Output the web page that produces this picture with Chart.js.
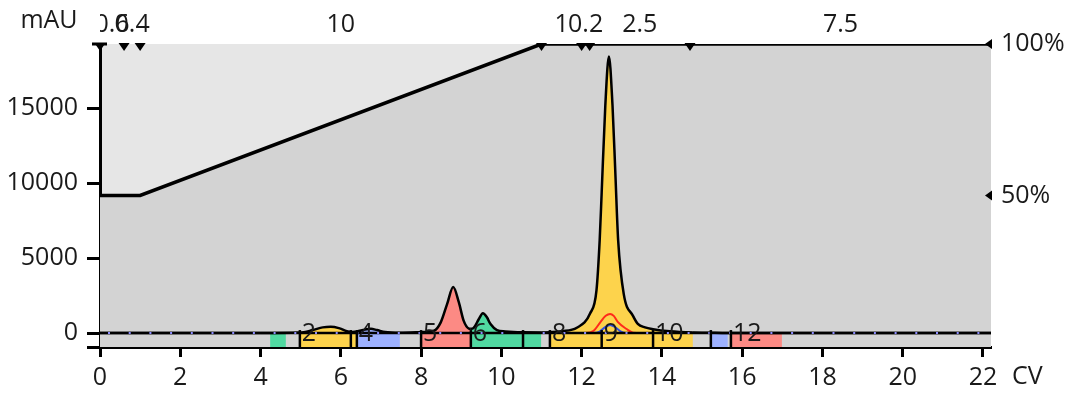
<!DOCTYPE html>
<html>
<head>
<meta charset="utf-8">
<script src="https://cdn.jsdelivr.net/npm/chart.js@4"></script>
<style>
  html, body { margin: 0; padding: 0; background: #fff; }
  canvas { display: block; }
</style>
</head>
<body>
<canvas id="chart" width="1072" height="393"></canvas>
<script>
// UV trace (CV, mAU)
const uvCV = [0, 4.0, 4.98, 5.3, 5.55, 5.75, 5.95, 6.15, 6.25, 6.27, 6.38, 6.40, 6.6, 6.75, 6.9, 7.1, 7.47, 8.0, 8.32, 8.49,
  8.65, 8.80, 8.94, 9.06, 9.19, 9.24, 9.31, 9.44, 9.54, 9.64, 9.73, 9.89, 10.1, 10.3, 10.54, 10.99, 11.21, 11.5, 11.88, 12.21,
  12.37, 12.45, 12.5, 12.59, 12.68, 12.77, 12.84, 12.91, 13.05, 13.28, 13.40, 13.58, 13.78, 14.2, 14.77, 15.5, 16.0, 22.2];
const uvMAU = [0, 0, 30, 200, 380, 420, 330, 120, 70, 70, 95, 100, 230, 280, 200, 70, 20, 60, 155, 715,
  1950, 3070, 2060, 830, 300, 280, 340, 940, 1320, 1050, 600, 200, 110, 70, 50, 40, 60, 120, 350, 1300,
  2850, 6200, 9400, 15170, 18450, 15170, 10700, 6200, 2600, 1150, 620, 380, 260, 120, 40, 10, 0, 0];

// second and third traces (red / blue)
const redCV = [0, 12.1, 12.3, 12.46, 12.6, 12.71, 12.8, 12.9, 13.12, 13.28, 13.5, 22.2];
const redMAU = [0, 0, 150, 700, 1150, 1280, 1150, 750, 270, 30, 0, 0];
const blueCV = [0, 12.3, 12.45, 12.58, 12.71, 12.84, 12.97, 13.1, 22.2];
const blueMAU = [0, 0, 100, 380, 540, 380, 120, 0, 0];

// fractions
const fracLabel = ['1', '2', '3', '4', '5', '6', '7', '8', '9', '10', '11', '12'];
const fracStart = [4.24, 4.98, 6.27, 6.40, 8.00, 9.24, 10.54, 11.21, 12.50, 13.78, 15.25, 15.72];
const fracEnd = [4.63, 6.25, 6.38, 7.47, 9.24, 10.54, 10.99, 12.50, 13.78, 14.77, 15.64, 16.99];
const fracMarks = [4.98, 6.25, 6.40, 8.00, 9.24, 10.54, 11.21, 12.50, 13.78, 15.22, 15.72];

// method segments / gradient (%B)
const segBounds = [0, 0.6, 1.0, 11.0, 12.0, 12.2, 14.7, 22.2];
const segPctB = [50, 50, 50, 100, 100, 100, 100, 100];
const segLabels = ['0.6', '0.4', '10', '1', '0.2', '2.5', '7.5'];

// axes
const xTicks = [0, 2, 4, 6, 8, 10, 12, 14, 16, 18, 20, 22];
const yTicks = [0, 5000, 10000, 15000];
const bTicks = [50, 100];
const yMin = -930, yMax = 19290;

const YEL = '#fdd34c', RED = '#fc8a84', GRN = '#50d9a1', BLU = '#9db1ff';
const fracColor = [GRN, YEL, YEL, BLU, RED, GRN, GRN, YEL, YEL, YEL, BLU, RED];
const TXT = '#1a1a1a';
const FONT = '25px "Open Sans", sans-serif';

const pts = (xs, ys) => xs.map((v, i) => ({ x: v, y: ys[i] }));

function fracColorAt(cv) {
    for (let i = 0; i < fracStart.length; i++) {
        if (cv >= fracStart[i] && cv < fracEnd[i]) return fracColor[i];
    }
    return 'rgba(0,0,0,0)';
}

const extras = {
    id: 'extras',
    beforeDraw(chart) {
        const { ctx, chartArea: a } = chart;
        ctx.save();
        ctx.fillStyle = '#e6e6e6';
        ctx.fillRect(a.left, a.top, a.right - a.left, a.bottom - a.top);
        ctx.restore();
    },
    beforeDatasetsDraw(chart) {
        // fraction boxes below the baseline
        const { ctx, scales: { x, y } } = chart;
        const y0 = y.getPixelForValue(0), yb = y.getPixelForValue(y.min);
        ctx.save();
        fracStart.forEach((s, i) => {
            const x0 = x.getPixelForValue(s), x1 = x.getPixelForValue(fracEnd[i]);
            ctx.fillStyle = fracColor[i];
            ctx.fillRect(x0, y0, x1 - x0, yb - y0);
        });
        ctx.restore();
    },
    afterDatasetsDraw(chart) {
        const { ctx, chartArea: a, scales: { x, y, y2 } } = chart;
        const y0 = y.getPixelForValue(0), yb = y.getPixelForValue(y.min);
        ctx.save();

        // black baseline with dotted overlay
        ctx.strokeStyle = '#000';
        ctx.lineWidth = 2.5;
        ctx.beginPath();
        ctx.moveTo(a.left, y0);
        ctx.lineTo(a.right, y0);
        ctx.stroke();
        ctx.strokeStyle = '#8c8cff';
        ctx.lineWidth = 2;
        ctx.setLineDash([2, 18.7]);
        ctx.beginPath();
        ctx.moveTo(a.left + 8, y0);
        ctx.lineTo(a.right, y0);
        ctx.stroke();
        ctx.setLineDash([]);

        // fraction marks
        ctx.strokeStyle = '#000';
        ctx.lineWidth = 2.5;
        fracMarks.forEach(m => {
            const px = x.getPixelForValue(m);
            ctx.beginPath();
            ctx.moveTo(px, y0 - 3);
            ctx.lineTo(px, yb);
            ctx.stroke();
        });

        // fraction labels
        ctx.font = FONT;
        ctx.fillStyle = TXT;
        ctx.textAlign = 'left';
        ctx.textBaseline = 'middle';
        fracLabel.forEach((t, i) => {
            const x0 = x.getPixelForValue(fracStart[i]), x1 = x.getPixelForValue(fracEnd[i]);
            if (x1 - x0 > 30) ctx.fillText(t, x0 + 2, y0 + 1);
        });

        // segment markers on top edge, plus cap on the y axis
        ctx.fillStyle = '#000';
        ctx.fillRect(a.left - 8, a.top - 1.5, 15, 3);
        segBounds.slice(0, -1).forEach(b => {
            const px = x.getPixelForValue(b);
            ctx.beginPath();
            ctx.moveTo(px - 5.5, a.top - 1);
            ctx.lineTo(px + 5.5, a.top - 1);
            ctx.lineTo(px, a.top + 7);
            ctx.closePath();
            ctx.fill();
        });

        // segment labels, clipped to the plot width
        ctx.save();
        ctx.beginPath();
        ctx.rect(a.left, 0, chart.width - a.left, a.top);
        ctx.clip();
        ctx.fillStyle = TXT;
        ctx.textAlign = 'center';
        segLabels.forEach((t, i) => {
            const cx = (x.getPixelForValue(segBounds[i]) + x.getPixelForValue(segBounds[i + 1])) / 2;
            ctx.fillText(t, cx, 25);
        });
        ctx.restore();

        // %B markers at right
        ctx.fillStyle = '#000';
        bTicks.forEach(v => {
            const py = y2.getPixelForValue(v);
            ctx.beginPath();
            ctx.moveTo(a.right - 6, py);
            ctx.lineTo(a.right + 1, py - 5);
            ctx.lineTo(a.right + 1, py + 5);
            ctx.closePath();
            ctx.fill();
        });

        // unit labels
        ctx.fillStyle = TXT;
        ctx.textAlign = 'center';
        ctx.fillText('mAU', 49, 21);
        ctx.textAlign = 'left';
        ctx.fillText('CV', 1012, 377);
        ctx.restore();
    }
};

Chart.defaults.font.family = '"Open Sans", sans-serif';
Chart.defaults.font.size = 25;
Chart.defaults.color = TXT;

new Chart(document.getElementById('chart'), {
    type: 'line',
    data: {
        datasets: [
            {
                label: 'UV',
                data: pts(uvCV, uvMAU),
                borderColor: '#000',
                borderWidth: 2.5,
                cubicInterpolationMode: 'monotone',
                fill: 'origin',
                backgroundColor: 'rgba(0,0,0,0)',
                segment: {
                    backgroundColor: c => fracColorAt((c.p0.parsed.x + c.p1.parsed.x) / 2)
                },
                pointRadius: 0,
                order: 1
            },
            {
                label: 'Blue',
                data: pts(blueCV, blueMAU),
                borderColor: '#2f4fe0',
                borderWidth: 2,
                cubicInterpolationMode: 'monotone',
                pointRadius: 0,
                fill: false,
                order: 2
            },
            {
                label: 'Red',
                data: pts(redCV, redMAU),
                borderColor: '#ff2a1a',
                borderWidth: 2,
                cubicInterpolationMode: 'monotone',
                pointRadius: 0,
                fill: false,
                order: 3
            },
            {
                label: 'Gradient',
                data: pts(segBounds, segPctB),
                yAxisID: 'y2',
                borderColor: '#000',
                borderWidth: 3.5,
                fill: 'start',
                backgroundColor: '#d3d3d3',
                pointRadius: 0,
                tension: 0,
                order: 4
            }
        ]
    },
    options: {
        responsive: false,
        animation: false,
        devicePixelRatio: 1,
        layout: { padding: { top: 44, left: 0, right: 0, bottom: 0 } },
        plugins: {
            legend: { display: false },
            tooltip: { enabled: false },
            filler: { drawTime: 'beforeDatasetsDraw' }
        },
        scales: {
            x: {
                type: 'linear',
                min: 0,
                max: 22.2,
                afterBuildTicks: s => { s.ticks = xTicks.map(v => ({ value: v })); },
                afterFit: s => { s.height = 46; },
                grid: { drawOnChartArea: false, tickLength: 10, tickWidth: 3, tickColor: '#000' },
                border: { color: '#000', width: 3 },
                ticks: { padding: 6, maxRotation: 0, autoSkip: false, callback: v => v }
            },
            y: {
                position: 'left',
                min: yMin,
                max: yMax,
                afterBuildTicks: s => { s.ticks = [yMin].concat(yTicks).map(v => ({ value: v })); },
                afterFit: s => { s.width = 100; },
                grid: { drawOnChartArea: false, tickLength: 13, tickWidth: 3, tickColor: '#000' },
                border: { color: '#000', width: 3 },
                ticks: { padding: 9, autoSkip: false, callback: v => (v === yMin ? '' : v) }
            },
            y2: {
                position: 'right',
                min: 0,
                max: 100,
                afterBuildTicks: s => { s.ticks = bTicks.map(v => ({ value: v })); },
                afterFit: s => { s.width = 81; },
                grid: { drawOnChartArea: false, drawTicks: false },
                border: { display: false },
                ticks: { padding: 10, autoSkip: false, callback: v => v + '%' }
            }
        }
    },
    plugins: [extras]
});
</script>
</body>
</html>
